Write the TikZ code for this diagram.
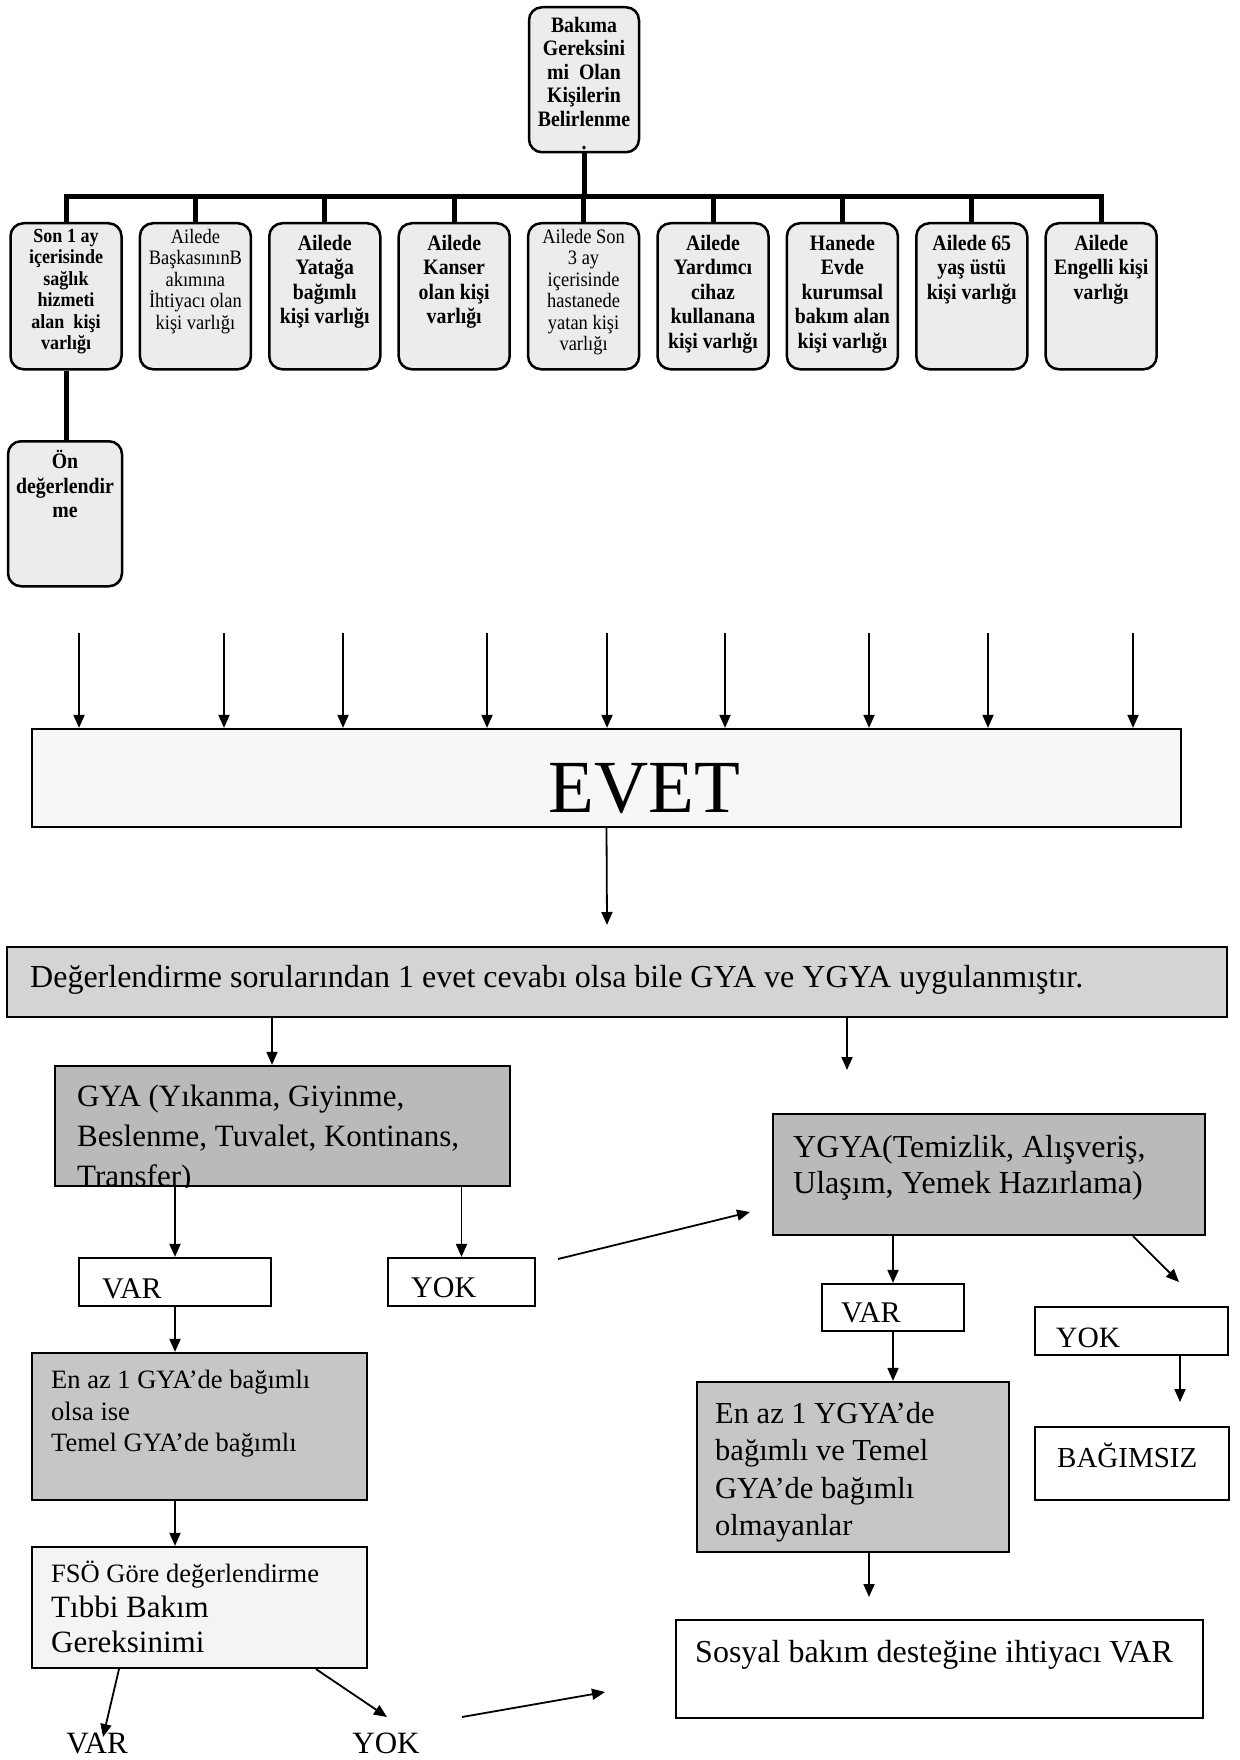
\documentclass[tikz,border=0pt]{standalone}
\usepackage{fontspec}
\setmainfont{Liberation Serif}
\newfontfamily\narrowfont[FakeStretch=0.9]{Liberation Serif}
\usetikzlibrary{arrows.meta}
\definecolor{boxcolor0000}{RGB}{236,236,236}
\definecolor{boxcolor0001}{RGB}{247,247,247}
\definecolor{boxcolor0002}{RGB}{212,212,212}
\definecolor{boxcolor0003}{RGB}{186,186,186}
\definecolor{boxcolor0004}{RGB}{198,198,198}
\definecolor{boxcolor0005}{RGB}{244,244,244}
\newcommand\bfonttop{\narrowfont\bfseries\fontsize{22}{23.5}\selectfont}
\newcommand\bfontbox{\narrowfont\bfseries\fontsize{22}{24.5}\selectfont}
\newcommand\bfontsmall{\narrowfont\bfseries\fontsize{20}{21.5}\selectfont}
\newcommand\rfontsmall{\narrowfont\fontsize{20.5}{21.5}\selectfont}

\begin{document}
\begin{tikzpicture}[yscale=-1
,pstyle1/.style={color=black,line width=5pt}
,pstyle2/.style={color=black,line width=1.8pt,-{Triangle[length=13pt,width=11pt]}}
,pstyle3/.style={draw=black,line width=2.5pt,rounded corners=13pt,fill=boxcolor0000,minimum width=111pt,minimum height=146pt,inner sep=0pt,anchor=north}
,pstyle4/.style={draw=black,line width=2.2pt,inner sep=0pt}
,pstyle5/.style={inner sep=0pt,anchor=north,align=center}
,pstyle6/.style={inner sep=0pt,anchor=north west,align=left}
,pstyle7/.style={inner sep=0pt,anchor=base west}
]
\useasboundingbox (0pt,0pt) rectangle (1239pt,1760pt);
% upper tree
\node[pstyle3,minimum width=110pt,minimum height=145pt] (top) at (584pt,6pt) {};
\node[pstyle5,font=\bfonttop] (topt) at (584pt,17pt) {Bakıma\\Gereksini\\mi~~Olan\\Kişilerin\\Belirlenme\\.};
\node[pstyle3] (c1) at (66pt,222pt) {};
\node[pstyle3] (c2) at (195.4pt,222pt) {};
\node[pstyle3] (c3) at (324.8pt,222pt) {};
\node[pstyle3] (c4) at (454.2pt,222pt) {};
\node[pstyle3] (c5) at (583.6pt,222pt) {};
\node[pstyle3] (c6) at (713pt,222pt) {};
\node[pstyle3] (c7) at (842.4pt,222pt) {};
\node[pstyle3] (c8) at (971.8pt,222pt) {};
\node[pstyle3] (c9) at (1101.2pt,222pt) {};
\node[pstyle5,font=\bfontsmall] (c1t) at (66pt,229pt) {Son 1 ay\\içerisinde\\sağlık\\hizmeti\\alan~~kişi\\varlığı};
\node[pstyle5,font=\rfontsmall] (c2t) at (195.4pt,229pt) {Ailede\\BaşkasınınB\\akımına\\İhtiyacı olan\\kişi varlığı};
\node[pstyle5,font=\bfontbox] (c3t) at (324.8pt,235pt) {Ailede\\Yatağa\\bağımlı\\kişi varlığı};
\node[pstyle5,font=\bfontbox] (c4t) at (454.2pt,235pt) {Ailede\\Kanser\\olan kişi\\varlığı};
\node[pstyle5,font=\rfontsmall] (c5t) at (583.6pt,229pt) {Ailede Son\\3 ay\\içerisinde\\hastanede\\yatan kişi\\varlığı};
\node[pstyle5,font=\bfontbox] (c6t) at (713pt,235pt) {Ailede\\Yardımcı\\cihaz\\kullanana\\kişi varlığı};
\node[pstyle5,font=\bfontbox] (c7t) at (842.4pt,235pt) {Hanede\\Evde\\kurumsal\\bakım alan\\kişi varlığı};
\node[pstyle5,font=\bfontbox] (c8t) at (971.8pt,235pt) {Ailede 65\\yaş üstü\\kişi varlığı};
\node[pstyle5,font=\bfontbox] (c9t) at (1101.2pt,235pt) {Ailede\\Engelli kişi\\varlığı};
\node[pstyle3,minimum width=114pt,minimum height=145pt] (on) at (65pt,440pt) {};
\node[pstyle5,font=\bfontbox] (ont) at (65pt,450pt) {Ön\\değerlendir\\me};
\coordinate (bar) at (584pt,197pt);
\draw[pstyle1] (top.south) -- (bar);
\draw[pstyle1] (c1.north) |- (bar) -| (c9.north);
\draw[pstyle1] (c2.north) -- (c2.north |- bar);
\draw[pstyle1] (c3.north) -- (c3.north |- bar);
\draw[pstyle1] (c4.north) -- (c4.north |- bar);
\draw[pstyle1] (c5.north) -- (c5.north |- bar);
\draw[pstyle1] (c6.north) -- (c6.north |- bar);
\draw[pstyle1] (c7.north) -- (c7.north |- bar);
\draw[pstyle1] (c8.north) -- (c8.north |- bar);
\draw[pstyle1] (c1.south) -- (c1.south |- on.north);
% EVET
\node[pstyle4,fill=boxcolor0001,minimum width=1149pt,minimum height=98pt] (evet) at (606.5pt,778pt) {};
\node[inner sep=0pt,anchor=base,font=\fontsize{75}{80}\selectfont] (evett) at (644pt,812pt) {EVET};
\coordinate (a1) at (79pt,633pt);
\coordinate (a2) at (224pt,633pt);
\coordinate (a3) at (343pt,633pt);
\coordinate (a4) at (487pt,633pt);
\coordinate (a5) at (607pt,633pt);
\coordinate (a6) at (725pt,633pt);
\coordinate (a7) at (869pt,633pt);
\coordinate (a8) at (988pt,633pt);
\coordinate (a9) at (1133pt,633pt);
\draw[pstyle2] (a1) -- (a1 |- evet.north);
\draw[pstyle2] (a2) -- (a2 |- evet.north);
\draw[pstyle2] (a3) -- (a3 |- evet.north);
\draw[pstyle2] (a4) -- (a4 |- evet.north);
\draw[pstyle2] (a5) -- (a5 |- evet.north);
\draw[pstyle2] (a6) -- (a6 |- evet.north);
\draw[pstyle2] (a7) -- (a7 |- evet.north);
\draw[pstyle2] (a8) -- (a8 |- evet.north);
\draw[pstyle2] (a9) -- (a9 |- evet.north);
\coordinate (a10) at (607pt,925pt);
\draw[pstyle2] (evet.south) -- (a10);
% evaluation
\node[pstyle4,fill=boxcolor0002,minimum width=1220pt,minimum height=70pt] (deg) at (617pt,982pt) {};
\node[pstyle7,font=\fontsize{32}{38}\selectfont] (degt) at (30pt,987pt) {Değerlendirme sorularından 1 evet cevabı olsa bile GYA ve YGYA uygulanmıştır.};
\node[pstyle4,fill=boxcolor0003,minimum width=455pt,minimum height=120pt] (gya) at (282.5pt,1126pt) {};
\begin{scope}
\clip (gya.north west) rectangle (gya.south east);
\node[pstyle6,font=\fontsize{31}{40}\selectfont] (gyat) at (77pt,1085pt) {GYA (Yıkanma, Giyinme,\\Beslenme, Tuvalet, Kontinans,\\Transfer)};
\end{scope}
\node[pstyle4,fill=boxcolor0003,minimum width=432pt,minimum height=121pt] (ygya) at (989pt,1174.5pt) {};
\node[pstyle6,font=\fontsize{32}{36}\selectfont] (ygyat) at (793pt,1135pt) {YGYA(Temizlik, Alışveriş,\\Ulaşım, Yemek Hazırlama)};
\coordinate (a11) at (847pt,1070pt);
\draw[pstyle2] ([xshift=-10.5pt]gya.north |- deg.south) -- ([xshift=-10.5pt]gya.north);
\draw[pstyle2] (a11 |- deg.south) -- (a11);
% GYA branch
\node[pstyle4,fill=white,minimum width=192pt,minimum height=48pt] (var1) at (175pt,1282pt) {};
\node[pstyle7,font=\fontsize{30}{36}\selectfont] (var1t) at (102pt,1298pt) {VAR};
\node[pstyle4,fill=white,minimum width=147pt,minimum height=48pt] (yok1) at (461.5pt,1282pt) {};
\node[pstyle7,font=\fontsize{30}{36}\selectfont] (yok1t) at (411pt,1297pt) {YOK};
\draw[pstyle2] (var1.north |- gya.south) -- (var1.north);
\draw[pstyle2] (yok1.north |- gya.south) -- (yok1.north);
\coordinate (p1) at (558pt,1259pt);
\coordinate (p2) at (750pt,1212pt);
\draw[pstyle2] (p1) -- (p2);
\node[pstyle4,fill=boxcolor0004,minimum width=335pt,minimum height=147pt] (en1) at (199.5pt,1426.5pt) {};
\node[pstyle6,font=\fontsize{26.5}{31.5}\selectfont] (en1t) at (51pt,1370pt) {En az 1 GYA’de bağımlı\\olsa ise\\Temel GYA’de bağımlı};
\node[pstyle4,fill=boxcolor0005,minimum width=335pt,minimum height=121pt] (fso) at (199.5pt,1607.5pt) {};
\node[pstyle6,font=\fontsize{31}{35}\selectfont] (fsot) at (51pt,1561pt) {{\fontsize{26.5}{30}\selectfont FSÖ Göre değerlendirme}\\Tıbbi Bakım\\Gereksinimi};
\draw[pstyle2] (var1.south) -- (var1.south |- en1.north);
\draw[pstyle2] (var1.south |- en1.south) -- (var1.south |- fso.north);
\node[inner sep=0pt,anchor=base,font=\fontsize{31}{36}\selectfont] (var3) at (97pt,1753pt) {VAR};
\node[inner sep=0pt,anchor=base,font=\fontsize{31}{36}\selectfont] (yok3) at (386pt,1753pt) {YOK};
\coordinate (v1) at (103pt,1737pt);
\coordinate (v2) at (387pt,1717pt);
\draw[pstyle2] ([xshift=-80.5pt]fso.south) -- (v1);
\draw[pstyle2] ([xshift=116.5pt]fso.south) -- (v2);
\coordinate (w1) at (462pt,1717pt);
\coordinate (w2) at (605pt,1692pt);
\draw[pstyle2] (w1) -- (w2);
% YGYA branch
\node[pstyle4,fill=white,minimum width=142pt,minimum height=47pt] (var2) at (893pt,1307.5pt) {};
\node[pstyle7,font=\fontsize{30}{36}\selectfont] (var2t) at (841pt,1322pt) {VAR};
\node[pstyle4,fill=white,minimum width=193pt,minimum height=48pt] (yok2) at (1131.5pt,1331pt) {};
\node[pstyle7,font=\fontsize{29.5}{36}\selectfont] (yok2t) at (1056pt,1347pt) {YOK};
\node[pstyle4,fill=white,minimum width=194pt,minimum height=73pt] (bag) at (1132pt,1463.5pt) {};
\node[pstyle7,font=\fontsize{29}{36}\selectfont] (bagt) at (1057pt,1467pt) {BAĞIMSIZ};
\node[pstyle4,fill=boxcolor0004,minimum width=312pt,minimum height=170pt] (en2) at (853pt,1467pt) {};
\node[pstyle6,font=\fontsize{30.5}{37.5}\selectfont] (en2t) at (715pt,1402pt) {En az 1 YGYA’de\\bağımlı ve Temel\\GYA’de bağımlı\\olmayanlar};
\node[pstyle4,fill=white,minimum width=527pt,minimum height=98pt] (sos) at (939.5pt,1669pt) {};
\node[pstyle7,font=\fontsize{32}{38}\selectfont] (sost) at (695pt,1662pt) {Sosyal bakım desteğine ihtiyacı VAR};
\draw[pstyle2] (var2.north |- ygya.south) -- (var2.north);
\coordinate (q1) at (1179pt,1282pt);
\draw[pstyle2] ([xshift=144pt]ygya.south) -- (q1);
\draw[pstyle2] (var2.south) -- (var2.south |- en2.north);
\coordinate (q2) at (1180pt,1402pt);
\draw[pstyle2] (q2 |- yok2.south) -- (q2);
\coordinate (r1) at (869pt,1597pt);
\draw[pstyle2] (r1 |- en2.south) -- (r1);
\end{tikzpicture}
\end{document}
